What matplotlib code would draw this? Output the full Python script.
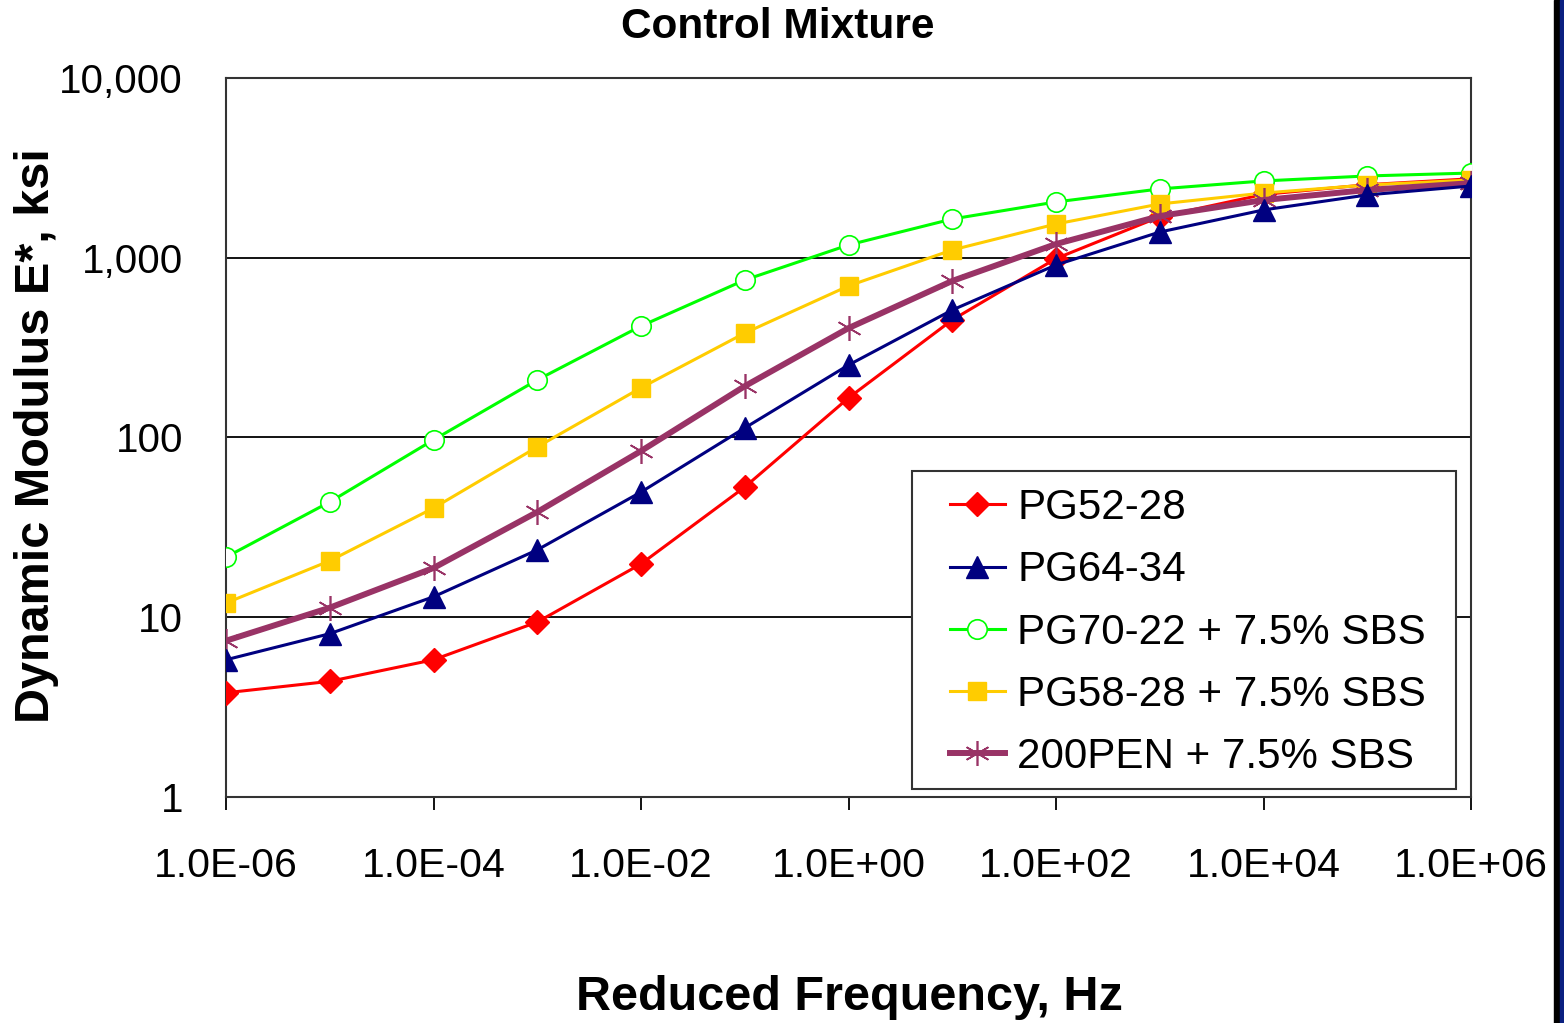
import matplotlib
matplotlib.use("Agg")
import matplotlib.pyplot as plt
from matplotlib.ticker import FixedLocator, NullLocator
from matplotlib.patches import Rectangle

# reduced frequency, Hz
freq = [1e-6, 1e-5, 1e-4, 1e-3, 1e-2, 1e-1, 1e0, 1e1, 1e2, 1e3, 1e4, 1e5, 1e6]

# dynamic modulus |E*|, ksi
pg52_28 = [3.8, 4.4, 5.8, 9.4, 19.8, 53, 166, 451, 990, 1690, 2250, 2550, 2750]
pg64_34 = [5.8, 8.1, 13.0, 23.7, 49.7, 113, 253, 512, 912, 1390, 1845, 2236, 2508]
pg70_22_sbs = [21.6, 43.8, 97, 209, 417, 752, 1178, 1643, 2044, 2415, 2675, 2851, 2960]
pg58_28_sbs = [12.0, 20.6, 40.5, 88.6, 189, 381, 697, 1105, 1541, 1992, 2291, 2540, 2707]
pen200_sbs = [7.4, 11.3, 18.8, 38.5, 84.1, 193, 406, 743, 1192, 1706, 2094, 2383, 2599]

series_labels = ["PG52-28", "PG64-34", "PG70-22 + 7.5% SBS",
                 "PG58-28 + 7.5% SBS", "200PEN + 7.5% SBS"]

x_tick_labels = ["1.0E-06", "1.0E-04", "1.0E-02", "1.0E+00",
                 "1.0E+02", "1.0E+04", "1.0E+06"]
y_tick_labels = ["1", "10", "100", "1,000", "10,000"]

plt.rcParams["font.family"] = ["Liberation Sans", "DejaVu Sans"]

W, H = 1564, 1023
fig = plt.figure(figsize=(W / 100, H / 100), dpi=100)
ax = fig.add_axes([226 / W, 1 - 797 / H, 1245 / W, 719 / H])

# dark strip at the right edge of the picture
fig.patches.append(Rectangle((1554 / W, 0), 6 / W, 1, transform=fig.transFigure,
                             color="black", zorder=0))
fig.patches.append(Rectangle((1560 / W, 0), 4 / W, 1, transform=fig.transFigure,
                             color="#0a2080", zorder=0))

ax.plot(freq, pg52_28, color="#FF0000", lw=2.2, marker="D", ms=12.5,
        mfc="#FF0000", mec="#FF0000", label=series_labels[0], zorder=3)
ax.plot(freq, pg64_34, color="#000080", lw=2.2, marker="^", ms=16,
        mfc="#000080", mec="#000080", label=series_labels[1], zorder=4)
ax.plot(freq, pg70_22_sbs, color="#00FF00", lw=2.2, marker="o", ms=14,
        mfc="white", mec="#00FF00", mew=1.2, label=series_labels[2], zorder=3)
ax.plot(freq, pg58_28_sbs, color="#FFCC00", lw=2.2, marker="s", ms=13,
        mfc="#FFCC00", mec="#FFCC00", label=series_labels[3], zorder=3)
ax.plot(freq, pen200_sbs, color="#993366", lw=4.3, marker=(6, 2, 0), ms=18,
        mec="#993366", mew=1.2, label=series_labels[4], zorder=3)

ax.set_xscale("log")
ax.set_yscale("log")
ax.set_xlim(1e-6, 1e6)
ax.set_ylim(1, 1e4)

ax.xaxis.set_major_locator(FixedLocator([10.0 ** p for p in range(-6, 7, 2)]))
ax.xaxis.set_minor_locator(NullLocator())
ax.set_xticklabels(x_tick_labels)
ax.yaxis.set_major_locator(FixedLocator([1, 10, 100, 1000, 10000]))
ax.yaxis.set_minor_locator(NullLocator())
ax.set_yticklabels(y_tick_labels)

ax.tick_params(axis="x", direction="out", length=9, width=1.3, pad=27,
               labelsize=29.5, colors="black")
ax.tick_params(axis="y", length=0, pad=31, labelsize=29)

ax.yaxis.grid(True, color="black", lw=1.3)
ax.set_axisbelow(True)
for spine in ax.spines.values():
    spine.set_color("#333333")
    spine.set_linewidth(1.5)

# title and axis titles placed on the figure like the original
fig.text(778 / W, 1 - 27 / H, "Control Mixture", fontsize=30.5,
         fontweight="bold", ha="center", va="center")
fig.text(849 / W, 1 - 997 / H, "Reduced Frequency, Hz", fontsize=35,
         fontweight="bold", ha="center", va="center")
fig.text(37 / W, 1 - 436 / H, "Dynamic Modulus E*, ksi", fontsize=35,
         fontweight="bold", ha="center", va="center", rotation=90)

# legend box drawn separately so its margins match the original
ax.add_patch(Rectangle((686 / 1245, 8 / 719), 544 / 1245, 318 / 719,
                       transform=ax.transAxes, facecolor="white",
                       edgecolor="#333333", lw=1.5, zorder=5))
leg = ax.legend(loc="upper left", bbox_to_anchor=(724 / 1245, 309 / 719),
                fontsize=30.3, frameon=False, handlelength=1.3,
                handletextpad=0.3, labelspacing=0.53, borderpad=0,
                borderaxespad=0)
leg.set_zorder(6)

fig.savefig("out.png", dpi=100)
